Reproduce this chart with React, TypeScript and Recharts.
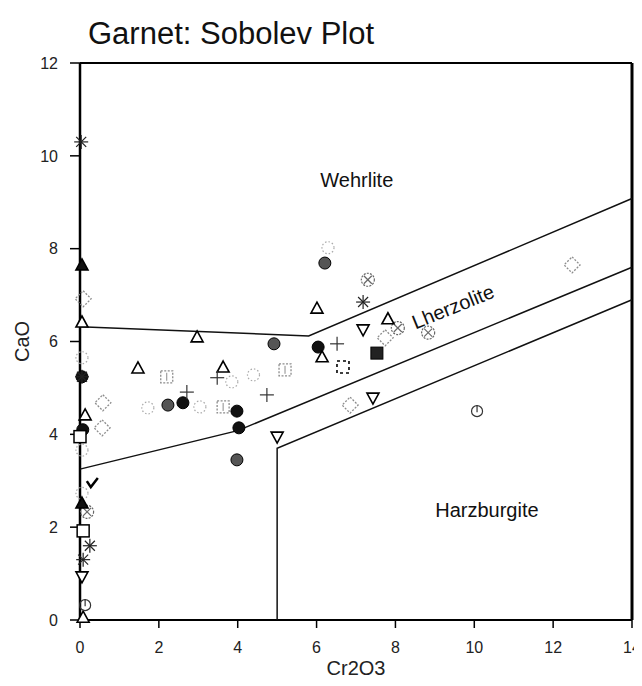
import React from 'react';
import { ScatterChart, Scatter, XAxis, YAxis, ReferenceLine, ReferenceDot, Label } from 'recharts';

const xTicks = [0, 2, 4, 6, 8, 10, 12, 14];
const yTicks = [0, 2, 4, 6, 8, 10, 12];

// field boundaries
const wehrliteBoundary = [{ x: 0, y: 6.32 }, { x: 5.8, y: 6.12 }, { x: 14, y: 9.08 }];
const lherzoliteBoundary = [{ x: 0, y: 3.25 }, { x: 4, y: 4.08 }, { x: 14, y: 7.6 }];
const harzburgiteBoundary = [{ x: 5, y: 0 }, { x: 5, y: 3.7 }, { x: 14, y: 6.9 }];

// samples
const filledCircles = [{ x: 0.07, y: 4.1 }, { x: 2.61, y: 4.68 }, { x: 3.98, y: 4.5 }, { x: 4.03, y: 4.14 }, { x: 6.04, y: 5.88 }, { x: 0.05, y: 5.24 }];
const greyCircles = [{ x: 4.92, y: 5.95 }, { x: 2.23, y: 4.63 }, { x: 3.98, y: 3.45 }, { x: 6.21, y: 7.69 }];
const openTriangles = [{ x: 0.05, y: 6.42 }, { x: 0.13, y: 4.42 }, { x: 0.08, y: 0.06 }, { x: 1.47, y: 5.43 }, { x: 2.97, y: 6.1 }, { x: 3.63, y: 5.45 }, { x: 6.01, y: 6.72 }, { x: 6.14, y: 5.67 }, { x: 7.81, y: 6.49 }];
const filledTriangles = [{ x: 0.05, y: 7.65 }, { x: 0.05, y: 2.52 }];
const invTriangles = [{ x: 5.0, y: 3.94 }, { x: 7.18, y: 6.25 }, { x: 7.43, y: 4.78 }, { x: 0.05, y: 0.93 }];
const diamonds = [{ x: 0.08, y: 6.92 }, { x: 0.58, y: 4.68 }, { x: 0.56, y: 4.14 }, { x: 7.74, y: 6.08 }, { x: 6.85, y: 4.63 }, { x: 12.48, y: 7.65 }];
const pluses = [{ x: 3.48, y: 5.22 }, { x: 4.74, y: 4.85 }, { x: 2.71, y: 4.91 }, { x: 6.52, y: 5.95 }];
const asterisks = [{ x: 0.03, y: 10.3 }, { x: 0.05, y: 5.24 }, { x: 0.25, y: 1.6 }, { x: 0.08, y: 1.3 }, { x: 7.18, y: 6.85 }];
const openSquares = [{ x: 0.0, y: 3.95 }, { x: 0.08, y: 1.92 }];
const dashedSquares = [{ x: 6.67, y: 5.45 }];
const filledSquares = [{ x: 7.53, y: 5.75 }];
const circleX = [{ x: 7.3, y: 7.33 }, { x: 8.06, y: 6.29 }, { x: 8.83, y: 6.19 }, { x: 0.18, y: 2.33 }];
const greySquares = [{ x: 2.2, y: 5.24 }, { x: 3.63, y: 4.59 }, { x: 5.2, y: 5.39 }];
const speckles = [{ x: 0.05, y: 5.65 }, { x: 1.72, y: 4.57 }, { x: 3.04, y: 4.59 }, { x: 4.4, y: 5.28 }, { x: 3.85, y: 5.13 }, { x: 6.29, y: 8.02 }, { x: 0.05, y: 3.66 }, { x: 0.05, y: 2.73 }];
const openCircles = [{ x: 10.07, y: 4.5 }, { x: 0.13, y: 0.32 }];
const checks = [{ x: 0.3, y: 2.95 }];

const FONT = '"Liberation Sans", Arial, sans-serif';
const GREY = '#8c8c8c';

const none = () => <g />;
const fCircle = (fill: string) => (p: any) => <circle cx={p.cx} cy={p.cy} r={6} fill={fill} stroke="#000" strokeWidth={1} />;
const triUp = (fill: string) => (p: any) => (
  <polygon points={`${p.cx},${p.cy - 6} ${p.cx + 6},${p.cy + 5} ${p.cx - 6},${p.cy + 5}`} fill={fill} stroke="#000" strokeWidth={1.6} />
);
const triDown = (p: any) => (
  <polygon points={`${p.cx - 6},${p.cy - 5} ${p.cx + 6},${p.cy - 5} ${p.cx},${p.cy + 6}`} fill="#fff" stroke="#000" strokeWidth={1.6} />
);
const diamond = (p: any) => (
  <polygon points={`${p.cx},${p.cy - 8} ${p.cx + 8},${p.cy} ${p.cx},${p.cy + 8} ${p.cx - 8},${p.cy}`} fill="none" stroke={GREY} strokeWidth={1.3} strokeDasharray="2 1.5" />
);
const plus = (p: any) => (
  <g stroke="#333" strokeWidth={1.2}>
    <line x1={p.cx - 7} y1={p.cy} x2={p.cx + 7} y2={p.cy} />
    <line x1={p.cx} y1={p.cy - 7} x2={p.cx} y2={p.cy + 7} />
  </g>
);
const asterisk = (p: any) => (
  <g stroke="#222" strokeWidth={1.2}>
    <line x1={p.cx - 7} y1={p.cy} x2={p.cx + 7} y2={p.cy} />
    <line x1={p.cx} y1={p.cy - 7} x2={p.cx} y2={p.cy + 7} />
    <line x1={p.cx - 5} y1={p.cy - 5} x2={p.cx + 5} y2={p.cy + 5} />
    <line x1={p.cx - 5} y1={p.cy + 5} x2={p.cx + 5} y2={p.cy - 5} />
  </g>
);
const openSquare = (p: any) => <rect x={p.cx - 6} y={p.cy - 6} width={12} height={12} fill="#fff" stroke="#000" strokeWidth={1.5} />;
const dashedSquare = (p: any) => <rect x={p.cx - 6} y={p.cy - 6} width={12} height={12} fill="none" stroke="#000" strokeWidth={1.6} strokeDasharray="3 3" />;
const filledSquare = (p: any) => <rect x={p.cx - 6} y={p.cy - 6} width={12} height={12} fill="#222" stroke="#000" strokeWidth={1} />;
const greySquare = (p: any) => (
  <g>
    <rect x={p.cx - 6} y={p.cy - 6} width={12} height={12} fill="none" stroke={GREY} strokeWidth={1.3} strokeDasharray="2 1.5" />
    <line x1={p.cx} y1={p.cy - 4} x2={p.cx} y2={p.cy + 4} stroke={GREY} />
  </g>
);
const cross = (p: any) => (
  <g stroke="#666" strokeWidth={1.2} fill="none">
    <circle cx={p.cx} cy={p.cy} r={6.5} strokeDasharray="2 1.2" />
    <line x1={p.cx - 4} y1={p.cy - 4} x2={p.cx + 4} y2={p.cy + 4} />
    <line x1={p.cx - 4} y1={p.cy + 4} x2={p.cx + 4} y2={p.cy - 4} />
  </g>
);
const speckle = (p: any) => (
  <circle cx={p.cx} cy={p.cy} r={6} fill="none" stroke="#aaa" strokeWidth={1.2} strokeDasharray="1.5 2" />
);
const openCircle = (p: any) => (
  <g stroke="#333" strokeWidth={1.2} fill="none">
    <circle cx={p.cx} cy={p.cy} r={5.5} />
    <line x1={p.cx} y1={p.cy - 6} x2={p.cx} y2={p.cy + 1} />
  </g>
);
const check = (p: any) => (
  <polyline points={`${p.cx - 5},${p.cy - 2} ${p.cx - 1},${p.cy + 4} ${p.cx + 6},${p.cy - 5}`} fill="none" stroke="#000" strokeWidth={2.5} />
);

const fieldText = (text: string, angle: number) => (p: any) => (
  <text
    x={p.cx}
    y={p.cy}
    textAnchor="middle"
    dominantBaseline="central"
    transform={angle ? `rotate(${angle} ${p.cx} ${p.cy})` : undefined}
    fontFamily={FONT}
    fontSize={20}
    fill="#111"
  >
    {text}
  </text>
);

export default function App() {
  const series: [any[], any][] = [
    [speckles, speckle],
    [diamonds, diamond],
    [greySquares, greySquare],
    [circleX, cross],
    [greyCircles, fCircle('#555')],
    [filledCircles, fCircle('#111')],
    [openTriangles, triUp('#fff')],
    [filledTriangles, triUp('#111')],
    [invTriangles, triDown],
    [pluses, plus],
    [asterisks, asterisk],
    [openSquares, openSquare],
    [dashedSquares, dashedSquare],
    [filledSquares, filledSquare],
    [openCircles, openCircle],
    [checks, check],
  ];
  return (
    <div style={{ position: 'relative', width: 634, height: 678 }}>
      <div
        style={{
          position: 'absolute',
          left: 80,
          top: 10,
          fontFamily: FONT,
          fontSize: 31,
          lineHeight: '31px',
          color: '#111',
          whiteSpace: 'nowrap',
        }}
      >
        Garnet: Sobolev Plot
      </div>
      <ScatterChart width={634} height={678} margin={{ top: 55, right: 10, bottom: 0, left: 0 }}>
        <XAxis
          type="number"
          dataKey="x"
          domain={[0, 14]}
          ticks={xTicks}
          interval={0}
          axisLine={{ stroke: '#000', strokeWidth: 2 }}
          tickLine={{ stroke: '#000', strokeWidth: 1.5 }}
          tickSize={8}
          tickMargin={14}
          tick={{ fill: '#222', fontSize: 16, fontFamily: FONT }}
          height={66}
        >
          <Label
            content={(props: any) => {
              const vb = props.viewBox || {};
              const cx = vb.x + vb.width / 2;
              return (
                <text x={cx} y={vb.y + 48} textAnchor="middle" dominantBaseline="central" fontFamily={FONT} fontSize={20} fill="#222">
                  Cr2O3
                </text>
              );
            }}
          />
        </XAxis>
        <YAxis
          type="number"
          dataKey="y"
          domain={[0, 12]}
          ticks={yTicks}
          interval={0}
          axisLine={{ stroke: '#000', strokeWidth: 2.5 }}
          tickLine={{ stroke: '#000', strokeWidth: 1.5 }}
          tickSize={10}
          tickMargin={12}
          tick={{ fill: '#222', fontSize: 16, fontFamily: FONT }}
          width={72}
        >
          <Label
            content={(props: any) => {
              const vb = props.viewBox || {};
              const cy = vb.y + vb.height / 2;
              return (
                <text x={14} y={cy} transform={`rotate(-90 14 ${cy})`} textAnchor="middle" dominantBaseline="central" fontFamily={FONT} fontSize={20} fill="#222">
                  CaO
                </text>
              );
            }}
          />
        </YAxis>
        <ReferenceLine y={12} stroke="#000" strokeWidth={2} />
        <ReferenceLine x={14} stroke="#000" strokeWidth={3} />
        <Scatter data={wehrliteBoundary} line={{ stroke: '#111', strokeWidth: 1.5 }} lineType="joint" shape={none} isAnimationActive={false} />
        <Scatter data={lherzoliteBoundary} line={{ stroke: '#111', strokeWidth: 1.5 }} lineType="joint" shape={none} isAnimationActive={false} />
        <Scatter data={harzburgiteBoundary} line={{ stroke: '#111', strokeWidth: 1.5 }} lineType="joint" shape={none} isAnimationActive={false} />
        {series.map(([d, s], i) => (
          <Scatter key={i} data={d} shape={s} isAnimationActive={false} />
        ))}
        <ReferenceDot x={7.02} y={9.48} r={0} shape={fieldText('Wehrlite', 0)} />
        <ReferenceDot x={9.46} y={6.75} r={0} shape={fieldText('Lherzolite', -22)} />
        <ReferenceDot x={10.32} y={2.37} r={0} shape={fieldText('Harzburgite', 0)} />
      </ScatterChart>
    </div>
  );
}
